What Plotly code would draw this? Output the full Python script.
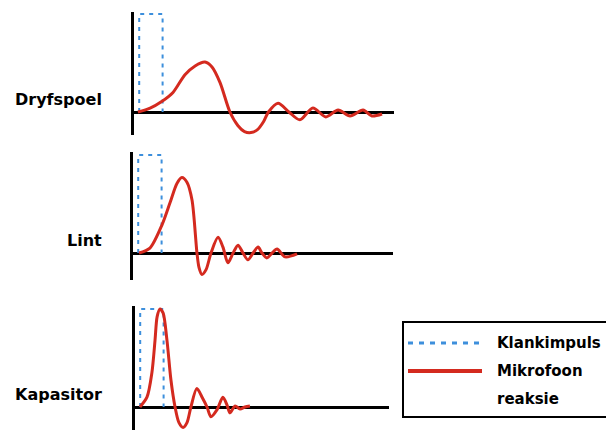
import plotly.graph_objects as go

W, H = 606, 430

# Sound impulse (same for all three microphones)
impulse_t = [0.2, 0.2, 1.1, 1.1]
impulse_a = [0.0, 1.0, 1.0, 0.0]

# Microphone responses (time, amplitude), impulse height = 1
dryfspoel_t = [0.15, 0.62, 1.08, 1.5, 1.96, 2.35, 2.73, 3.0, 3.31, 3.69, 4.0, 4.25, 4.5,
               4.75, 4.98, 5.17, 5.54, 5.96, 6.38, 6.88, 7.38, 7.85, 8.31, 8.81, 9.15, 9.54]
dryfspoel_a = [0.0, 0.04, 0.11, 0.2, 0.38, 0.47, 0.51, 0.46, 0.30, 0.0, -0.14, -0.20, -0.21,
               -0.18, -0.10, 0.0, 0.09, 0.0, -0.08, 0.04, -0.05, 0.02, -0.04, 0.02, -0.04, -0.02]

lint_t = [0.23, 0.65, 1.12, 1.42, 1.69, 1.88, 2.08, 2.27, 2.46, 2.54, 2.65, 2.81, 3.0,
          3.27, 3.46, 3.65, 3.85, 4.04, 4.23, 4.42, 4.62, 4.81, 4.96, 5.15, 5.35, 5.54,
          5.85, 6.31]
lint_a = [0.0, 0.05, 0.29, 0.51, 0.71, 0.77, 0.72, 0.54, 0.0, -0.15, -0.22, -0.17, 0.0,
          0.16, 0.06, -0.10, 0.0, 0.08, 0.0, -0.07, 0.0, 0.06, 0.0, -0.05, 0.0, 0.04,
          -0.04, -0.01]

kapasitor_t = [0.19, 0.46, 0.65, 0.77, 0.85, 0.96, 1.08, 1.23, 1.38, 1.54, 1.69, 1.85,
               2.0, 2.15, 2.38, 2.58, 2.77, 2.92, 3.15, 3.38, 3.54, 3.65, 3.85, 4.04,
               4.23, 4.42]
kapasitor_a = [0.0, 0.10, 0.35, 0.68, 0.92, 1.0, 0.96, 0.68, 0.28, 0.0, -0.16, -0.21,
               -0.16, 0.0, 0.19, 0.10, 0.0, -0.10, -0.03, 0.10, 0.02, -0.06, 0.01, -0.02,
               0.0, 0.01]

labels = ["Dryfspoel", "Lint", "Kapasitor"]
legend_names = ["Klankimpuls", "Mikrofoon", "reaksie"]

BLUE = "#3d8fdc"
RED = "#d42a1f"
FONT = "Comic Sans MS, DejaVu Sans, sans-serif"


def px(x):
    return x / W


def py(y):
    return 1 - y / H


# panel geometry in pixels: left, right, top, bottom, baseline
panels = [
    (134, 394, 12, 135, 112),
    (133, 393, 152, 280, 253),
    (135, 389, 306, 430, 407),
]
PX_PER_T = 26.0
PX_PER_A = 98.0

series = [(dryfspoel_t, dryfspoel_a), (lint_t, lint_a), (kapasitor_t, kapasitor_a)]

fig = go.Figure()
layout = dict(
    width=W, height=H, margin=dict(l=0, r=0, t=0, b=0),
    paper_bgcolor="white", plot_bgcolor="white", showlegend=False,
)

for i, ((l, r, t, b, base), (tt, aa)) in enumerate(zip(panels, series), start=1):
    sfx = "" if i == 1 else str(i)
    fig.add_trace(go.Scatter(
        x=impulse_t, y=impulse_a, mode="lines", xaxis="x" + sfx, yaxis="y" + sfx,
        line=dict(color=BLUE, width=2, dash="4px,5px"), hoverinfo="skip"))
    fig.add_trace(go.Scatter(
        x=tt, y=aa, mode="lines", xaxis="x" + sfx, yaxis="y" + sfx,
        line=dict(color=RED, width=3, shape="spline", smoothing=0.8), hoverinfo="skip"))
    layout["xaxis" + sfx] = dict(
        domain=[px(l), px(r)], range=[0, (r - l) / PX_PER_T], anchor="y" + sfx,
        showline=False, showgrid=False, zeroline=False, showticklabels=False, ticks="")
    layout["yaxis" + sfx] = dict(
        domain=[py(b), py(t)], range=[-(b - base) / PX_PER_A, (base - t) / PX_PER_A],
        anchor="x" + sfx, showline=True, linecolor="black", linewidth=2.5,
        showgrid=False, zeroline=True, zerolinecolor="black", zerolinewidth=3,
        showticklabels=False, ticks="")

fig.update_layout(**layout)

# Panel labels
label_y = [100, 240, 394]
for text, yy in zip(labels, label_y):
    fig.add_annotation(
        text=text, x=px(104), y=py(yy), xref="paper", yref="paper",
        xanchor="right", yanchor="middle", showarrow=False,
        font=dict(family=FONT, size=16, color="black", weight="bold"))

# Legend box
fig.add_shape(type="rect", xref="paper", yref="paper",
              x0=px(403), x1=px(W + 10), y0=py(417), y1=py(322),
              line=dict(color="black", width=2), fillcolor="rgba(0,0,0,0)")
fig.add_shape(type="line", xref="paper", yref="paper",
              x0=px(408), x1=px(482), y0=py(343), y1=py(343),
              line=dict(color=BLUE, width=3, dash="5px,6px"))
fig.add_shape(type="line", xref="paper", yref="paper",
              x0=px(408), x1=px(482), y0=py(371), y1=py(371),
              line=dict(color=RED, width=4))
for text, yy in zip(legend_names, [343, 371, 399]):
    fig.add_annotation(
        text=text, x=px(495), y=py(yy), xref="paper", yref="paper",
        xanchor="left", yanchor="middle", showarrow=False,
        font=dict(family=FONT, size=15, color="black", weight="bold"))

fig.write_html("out.html")
